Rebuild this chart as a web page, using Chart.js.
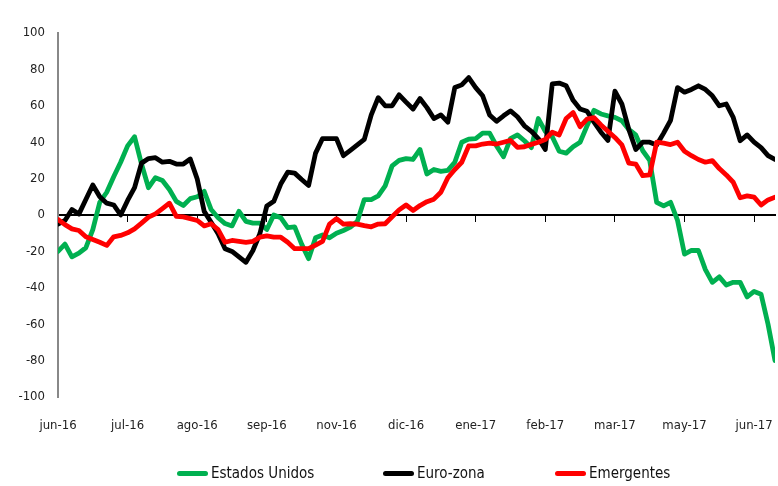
<!DOCTYPE html>
<html>
<head>
<meta charset="utf-8">
<script src="https://cdn.jsdelivr.net/npm/chart.js@4"></script>
<style>
  html, body { margin: 0; padding: 0; background: #fff; }
  #wrap { position: relative; width: 778px; height: 486px; overflow: hidden; }
  #c { position: absolute; left: 0; top: 0; }
  #legend { position: absolute; left: 0; top: 462px; width: 778px; height: 22px;
            font-family: 'DejaVu Sans Condensed', 'DejaVu Sans', sans-serif; font-size: 15px; color: #111; }
  .item { position: absolute; top: 0; display: flex; align-items: center; white-space: nowrap; height: 22px; }
  .sw { width: 31px; height: 5px; border-radius: 3px; margin-right: 3px; flex-shrink: 0; }
</style>
</head>
<body>
<div id="wrap">
  <canvas id="c" width="778" height="486"></canvas>
  <div id="legend"></div>
</div>
<script>
const monthLabels = ['jun-16','jul-16','ago-16','sep-16','nov-16','dic-16','ene-17','feb-17','mar-17','may-17','jun-17'];
const seriesNames = ['Estados Unidos', 'Euro-zona', 'Emergentes'];

const estadosUnidos = [
  -20, -16, -23, -21, -18, -8, 7, 12.5, 21, 29,
  38, 43, 28, 15, 20.5, 19, 14, 7.5, 5.2, 9,
  10, 13, 3, -1.5, -4.7, -6, 2, -3.5, -4.5, -4.5,
  -8, 0, -1.5, -7, -6.5, -16, -24, -12.5, -11, -12.5,
  -10, -8.5, -6.7, -3.5, 8.5, 8.5, 10.5, 16, 27, 30,
  31, 30.5, 36, 22.5, 25, 24, 24.5, 29, 40, 41.7,
  42, 45, 45, 38, 32, 42, 44, 40.8, 37, 53,
  46, 43, 35, 34, 37.5, 40, 49, 57.5, 55.5, 54.5,
  53.6, 51.8, 47, 44, 35.3, 30, 7, 5, 7, -3,
  -21.5, -19.5, -19.5, -30, -37, -34, -38.5, -37, -37, -45,
  -42, -43.5, -60, -80
];

const euroZona = [
  -5, -3, 3, 0.5, 8.5, 16.5, 10, 6.5, 5.5, 0,
  8, 15, 28.5, 31, 31.5, 29, 29.5, 28, 28, 30.8,
  19.8, 2, -4, -10.3, -18.5, -20, -23, -26, -19.5, -10.3,
  5, 7.5, 17, 23.5, 23, 19.5, 16.2, 34, 42, 42,
  42, 32.6, 35.5, 38.5, 41.5, 55, 64.5, 60, 60, 66,
  62, 58.2, 64, 59, 53, 55, 51, 70, 71.5, 75.5,
  70, 65.5, 55, 51.5, 54.5, 57.2, 54, 49, 46, 42,
  36, 72, 72.5, 71, 63, 58.2, 57, 51, 45.5, 41,
  68, 61, 47, 36, 40, 40, 38.5, 45, 52, 70,
  67.5, 69, 71, 69, 65.5, 60, 61, 53.6, 40.8, 44,
  40, 37, 32.6, 30.5
];

const emergentes = [
  -2.5, -5.3, -7.6, -8.5, -12, -13.5, -15, -16.7, -12, -11.2,
  -9.8, -7.6, -4.5, -1.2, 0.6, 3.5, 6.5, -0.8, -1, -2,
  -3, -6, -4.8, -8, -15, -14, -14.5, -15, -14.5, -12.2,
  -11.5, -12.2, -12.2, -15, -18.5, -18.5, -18.5, -16.5, -14.5, -5,
  -2, -5, -4.8, -5, -5.8, -6.5, -5, -4.8, -1, 2.8,
  5.5, 2.5, 5.2, 7.3, 8.7, 12.5, 20.5, 25, 29, 38,
  38, 39, 39.5, 39, 40, 41, 37.2, 37.5, 38.8, 40,
  41.5, 45.5, 44, 53, 56.3, 48.5, 52.7, 53.5, 49.5, 46,
  42.6, 38.5, 28.5, 28, 21.6, 22, 40, 39.5, 38.7, 40,
  35, 32.6, 30.5, 29, 29.9, 25.5, 22, 18, 9.5, 10.5,
  9.8, 5.5, 8.3, 9.8
];

const colors = ['#00B050', '#000000', '#FF0000'];
const allSeries = [estadosUnidos, euroZona, emergentes];
const lastIndex = estadosUnidos.length - 1;
const FONT = "'DejaVu Sans Condensed', 'DejaVu Sans', sans-serif";

const datasets = allSeries.map((vals, k) => ({
  label: seriesNames[k],
  data: vals.map((v, i) => ({ x: i, y: v })),
  borderColor: colors[k],
  backgroundColor: colors[k],
  borderWidth: 4.8,
  pointRadius: 0,
  tension: 0,
  fill: false,
  order: 3 - k,
  borderJoinStyle: 'round',
  borderCapStyle: 'round'
}));

new Chart(document.getElementById('c'), {
  type: 'line',
  data: { datasets },
  options: {
    responsive: false,
    animation: false,
    events: [],
    layout: { padding: { top: 33, right: 3, bottom: 0, left: 0 } },
    plugins: { legend: { display: false }, tooltip: { enabled: false }, title: { display: false } },
    scales: {
      x: {
        type: 'linear',
        position: 'bottom',
        min: 0,
        max: lastIndex,
        afterFit: s => { s.height = 89; s.paddingLeft = 0; s.paddingRight = 0; },
        border: { display: false },
        grid: { display: false, drawTicks: false },
        ticks: {
          stepSize: 10,
          includeBounds: false,
          autoSkip: false,
          maxRotation: 0,
          padding: 21,
          color: '#222',
          font: { family: FONT, size: 13 },
          callback: v => monthLabels[v / 10] ?? ''
        }
      },
      x0: {
        type: 'linear',
        axis: 'x',
        position: { y: 0 },
        min: 0,
        max: lastIndex,
        border: { display: true, color: '#000', width: 2 },
        grid: { drawOnChartArea: false, drawTicks: true, tickLength: 6, color: '#000', lineWidth: 1 },
        ticks: { stepSize: 10, includeBounds: false, display: false }
      },
      y: {
        min: -100,
        max: 100,
        afterFit: s => { s.width = 58; s.paddingTop = 0; s.paddingBottom = 0; },
        border: { display: true, color: '#888', width: 2 },
        grid: { display: false, drawTicks: false },
        ticks: {
          stepSize: 20,
          padding: 13,
          color: '#222',
          font: { family: FONT, size: 13 }
        }
      }
    }
  }
});

const legendLeft = [177, 383, 555];
const legend = document.getElementById('legend');
seriesNames.forEach((name, k) => {
  const item = document.createElement('div');
  item.className = 'item';
  item.style.left = legendLeft[k] + 'px';
  const sw = document.createElement('span');
  sw.className = 'sw';
  sw.style.background = colors[k];
  const t = document.createElement('span');
  t.textContent = name;
  item.appendChild(sw);
  item.appendChild(t);
  legend.appendChild(item);
});
</script>
</body>
</html>
